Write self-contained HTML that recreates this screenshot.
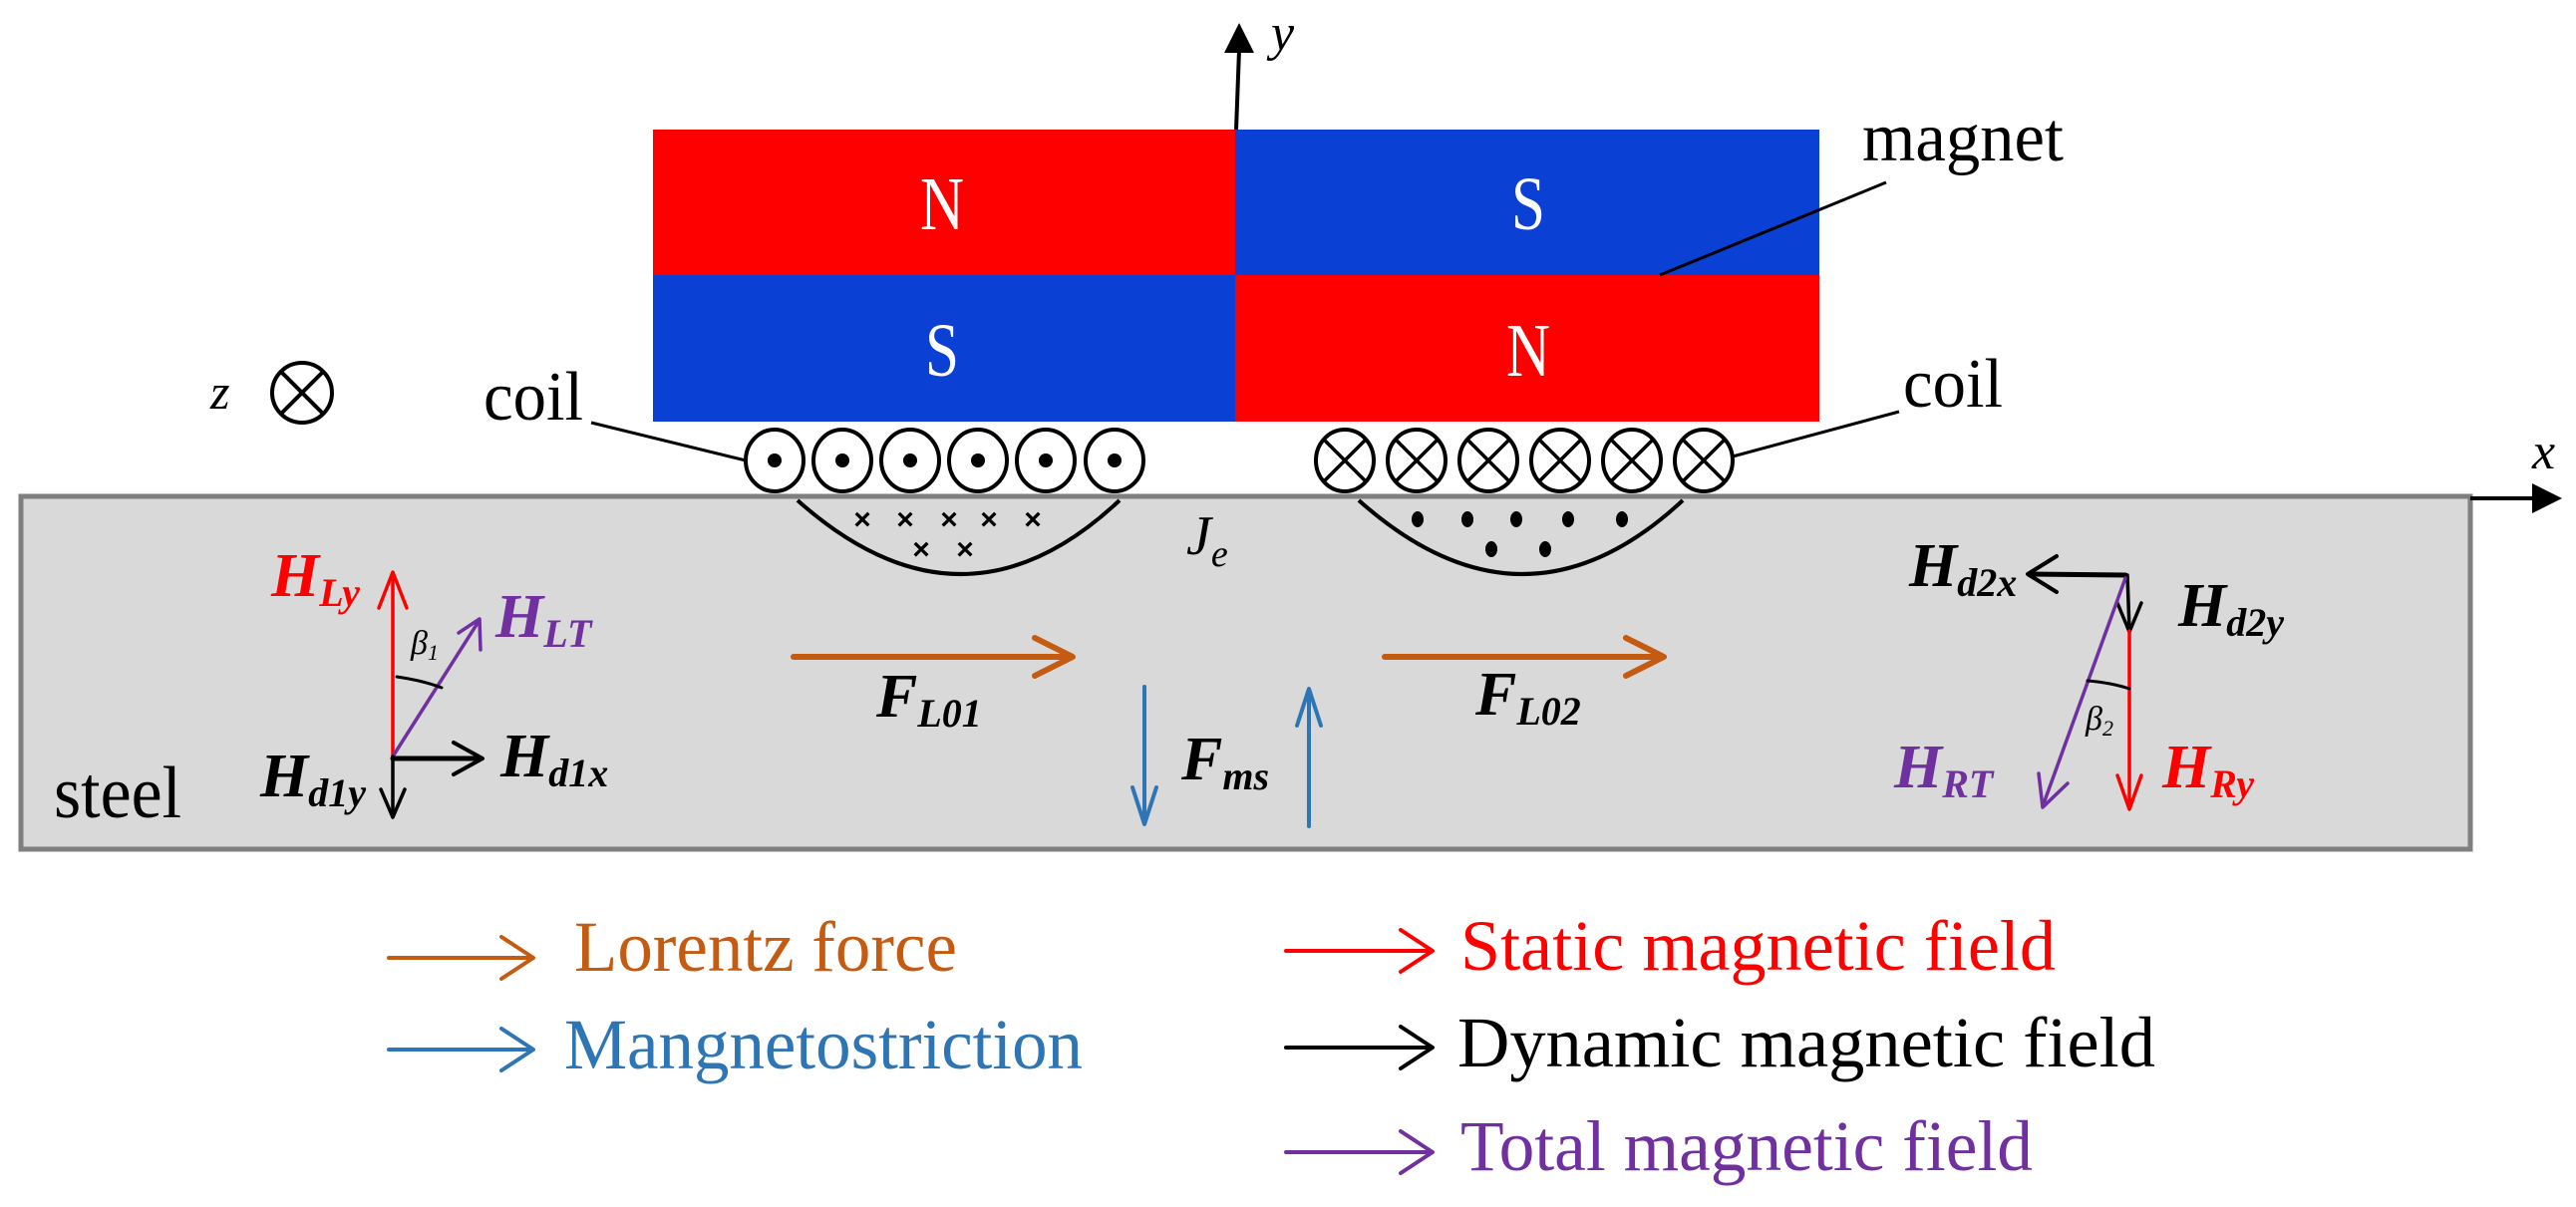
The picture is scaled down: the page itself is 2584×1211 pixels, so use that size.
<!DOCTYPE html>
<html><head><meta charset="utf-8"><style>html,body{margin:0;padding:0;background:#fff}svg{display:block}</style></head><body>
<svg width="2584" height="1211" viewBox="0 0 2584 1211" xmlns="http://www.w3.org/2000/svg" font-family="'Liberation Serif', serif">
<!-- magnets -->
<rect x="655" y="130" width="584" height="146" fill="#ff0000"/>
<rect x="1239" y="130" width="586" height="146" fill="#0a40d4"/>
<rect x="655" y="276" width="584" height="147" fill="#0a40d4"/>
<rect x="1239" y="276" width="586" height="147" fill="#ff0000"/>
<g fill="#fff" font-size="76" text-anchor="middle">
<text x="945" y="230" textLength="44" lengthAdjust="spacingAndGlyphs">N</text><text x="945" y="377" textLength="34" lengthAdjust="spacingAndGlyphs">S</text>
<text x="1533" y="230" textLength="34" lengthAdjust="spacingAndGlyphs">S</text><text x="1533" y="377" textLength="44" lengthAdjust="spacingAndGlyphs">N</text>
</g>
<!-- y axis -->
<line x1="1240" y1="130" x2="1243" y2="50" stroke="#000" stroke-width="4"/>
<path d="M1243,23 L1228,53 L1258,53 z" fill="#000"/>
<text x="1275" y="50" font-size="52" font-style="italic">y</text>
<!-- magnet label -->
<text x="1868" y="161" font-size="70" textLength="202" lengthAdjust="spacingAndGlyphs">magnet</text>
<line x1="1892" y1="183" x2="1665" y2="276" stroke="#000" stroke-width="3"/>
<!-- z -->
<text x="211" y="410" font-size="50" font-style="italic">z</text>
<g stroke="#000" stroke-width="4" fill="none">
<circle cx="303" cy="394" r="30"/>
<line x1="282" y1="373" x2="324" y2="415"/><line x1="324" y1="373" x2="282" y2="415"/>
</g>
<!-- steel -->
<rect x="21" y="498" width="2457" height="354" fill="#d9d9d9" stroke="#7f7f7f" stroke-width="5"/>
<line x1="2478" y1="500" x2="2540" y2="500" stroke="#000" stroke-width="4"/>
<path d="M2570,500 L2540,485 L2540,515 z" fill="#000"/>
<text x="2540" y="470" font-size="52" font-style="italic">x</text>
<!-- coils -->
<g stroke="#000" stroke-width="4" fill="#fff">
<ellipse cx="777" cy="462" rx="29" ry="31"/><ellipse cx="845" cy="462" rx="29" ry="31"/><ellipse cx="913" cy="462" rx="29" ry="31"/><ellipse cx="981" cy="462" rx="29" ry="31"/><ellipse cx="1049" cy="462" rx="29" ry="31"/><ellipse cx="1118" cy="462" rx="29" ry="31"/>
<ellipse cx="1349" cy="462" rx="29" ry="31"/><ellipse cx="1421" cy="462" rx="29" ry="31"/><ellipse cx="1493" cy="462" rx="29" ry="31"/><ellipse cx="1565" cy="462" rx="29" ry="31"/><ellipse cx="1637" cy="462" rx="29" ry="31"/><ellipse cx="1709" cy="462" rx="29" ry="31"/>
</g>
<g fill="#000">
<circle cx="777" cy="462" r="7"/><circle cx="845" cy="462" r="7"/><circle cx="913" cy="462" r="7"/><circle cx="981" cy="462" r="7"/><circle cx="1049" cy="462" r="7"/><circle cx="1118" cy="462" r="7"/>
</g>
<g stroke="#000" stroke-width="3.5">
<path d="M1329,442 l40,40 M1369,442 l-40,40"/><path d="M1401,442 l40,40 M1441,442 l-40,40"/><path d="M1473,442 l40,40 M1513,442 l-40,40"/><path d="M1545,442 l40,40 M1585,442 l-40,40"/><path d="M1617,442 l40,40 M1657,442 l-40,40"/><path d="M1689,442 l40,40 M1729,442 l-40,40"/>
</g>
<text x="485" y="421" font-size="70" textLength="100" lengthAdjust="spacingAndGlyphs">coil</text>
<line x1="593" y1="424" x2="748" y2="462" stroke="#000" stroke-width="3"/>
<text x="1909" y="408" font-size="70" textLength="100" lengthAdjust="spacingAndGlyphs">coil</text>
<line x1="1905" y1="413" x2="1738" y2="458" stroke="#000" stroke-width="3"/>
<!-- eddy arcs -->
<path d="M800,502 Q966,650 1123,502" fill="none" stroke="#000" stroke-width="4"/>
<path d="M1363,502 Q1529,650 1688,502" fill="none" stroke="#000" stroke-width="4"/>
<g font-size="30" font-family="'Liberation Sans',sans-serif" text-anchor="middle" font-weight="bold">
<text x="865" y="531">×</text><text x="908" y="531">×</text><text x="952" y="531">×</text><text x="992" y="531">×</text><text x="1036" y="531">×</text>
<text x="924" y="561">×</text><text x="968" y="561">×</text>
</g>
<g fill="#000">
<ellipse cx="1422" cy="521" rx="6" ry="8"/><ellipse cx="1472" cy="521" rx="6" ry="8"/><ellipse cx="1521" cy="521" rx="6" ry="8"/><ellipse cx="1573" cy="521" rx="6" ry="8"/><ellipse cx="1627" cy="521" rx="6" ry="8"/>
<ellipse cx="1496" cy="551" rx="6" ry="8"/><ellipse cx="1550" cy="551" rx="6" ry="8"/>
</g>
<text x="1190" y="556" font-size="56" font-style="italic">J<tspan font-size="38" dy="12">e</tspan></text>
<!-- left vector set -->
<g fill="none" stroke-width="3.5" stroke-linecap="round" stroke-linejoin="round">
<line x1="394" y1="759" x2="394" y2="576" stroke="#ff0000"/>
<path d="M380,610 L394,574 L408,610" stroke="#ff0000"/>
<line x1="394" y1="759" x2="481" y2="622" stroke="#7030a0"/>
<path d="M460,635 L481,621 L482,652" stroke="#7030a0"/>
<line x1="394" y1="761" x2="482" y2="761" stroke="#000" stroke-width="5"/>
<path d="M455,745 L484,761 L455,777" stroke="#000" stroke-width="4"/>
<line x1="394" y1="759" x2="394" y2="818" stroke="#000"/>
<path d="M382,792 L394,820 L406,792" stroke="#000"/>
<path d="M398,679 Q425,683 443,690" stroke="#000" stroke-width="3"/>
</g>
<g font-weight="bold" font-style="italic" font-size="62">
<text x="272" y="598" fill="#ff0000">H<tspan font-size="40" dy="10">Ly</tspan></text>
<text x="497" y="639" fill="#7030a0">H<tspan font-size="40" dy="10">LT</tspan></text>
<text x="502" y="779" fill="#000">H<tspan font-size="40" dy="10">d1x</tspan></text>
<text x="261" y="799" fill="#000">H<tspan font-size="40" dy="10">d1y</tspan></text>
</g>
<text x="412" y="656" font-size="34" font-style="italic">β<tspan font-size="22" dy="6">1</tspan></text>
<text x="54" y="820" font-size="74" textLength="128" lengthAdjust="spacingAndGlyphs">steel</text>
<!-- Lorentz forces -->
<g fill="none" stroke="#c55a11" stroke-width="6" stroke-linecap="round" stroke-linejoin="round">
<line x1="796" y1="659" x2="1074" y2="659"/><path d="M1038,640 L1076,659 L1038,678"/>
<line x1="1389" y1="659" x2="1667" y2="659"/><path d="M1631,640 L1669,659 L1631,678"/>
</g>
<g font-weight="bold" font-style="italic" font-size="62">
<text x="879" y="719">F<tspan font-size="40" dy="10">L01</tspan></text>
<text x="1480" y="717">F<tspan font-size="40" dy="10">L02</tspan></text>
<text x="1185" y="782">F<tspan font-size="40" dy="10">ms</tspan></text>
</g>
<!-- magnetostriction -->
<g fill="none" stroke="#2e75b6" stroke-width="4" stroke-linecap="round" stroke-linejoin="round">
<line x1="1148" y1="689" x2="1148" y2="825"/><path d="M1136,790 L1148,827 L1160,790"/>
<line x1="1313" y1="829" x2="1313" y2="693"/><path d="M1301,728 L1313,691 L1325,728"/>
</g>
<!-- right vector set -->
<g fill="none" stroke-width="3.5" stroke-linecap="round" stroke-linejoin="round">
<line x1="2132" y1="577" x2="2036" y2="576" stroke="#000" stroke-width="5"/>
<path d="M2063,558 L2034,576 L2063,594" stroke="#000" stroke-width="4"/>
<line x1="2134" y1="577" x2="2136" y2="632" stroke="#000"/>
<path d="M2124,605 L2136,634 L2148,605" stroke="#000"/>
<line x1="2136" y1="633" x2="2136" y2="810" stroke="#ff0000"/>
<path d="M2124,778 L2136,812 L2148,778" stroke="#ff0000"/>
<line x1="2132" y1="580" x2="2049" y2="809" stroke="#7030a0"/>
<path d="M2045,776 L2049,810 L2074,786" stroke="#7030a0"/>
<path d="M2094,683 Q2118,685 2136,691" stroke="#000" stroke-width="3"/>
</g>
<g font-weight="bold" font-style="italic" font-size="62">
<text x="1915" y="588" fill="#000">H<tspan font-size="40" dy="10">d2x</tspan></text>
<text x="2185" y="628" fill="#000">H<tspan font-size="40" dy="10">d2y</tspan></text>
<text x="2169" y="790" fill="#ff0000">H<tspan font-size="40" dy="10">Ry</tspan></text>
<text x="1900" y="790" fill="#7030a0">H<tspan font-size="40" dy="10">RT</tspan></text>
</g>
<text x="2092" y="732" font-size="34" font-style="italic">β<tspan font-size="22" dy="6">2</tspan></text>
<!-- legend -->
<g fill="none" stroke-width="4" stroke-linecap="round" stroke-linejoin="round">
<line x1="390" y1="961" x2="533" y2="961" stroke="#c55a11"/><path d="M503,940 L535,961 L503,982" stroke="#c55a11"/>
<line x1="390" y1="1053" x2="533" y2="1053" stroke="#2e75b6"/><path d="M503,1032 L535,1053 L503,1074" stroke="#2e75b6"/>
<line x1="1290" y1="954" x2="1435" y2="954" stroke="#ff0000"/><path d="M1405,933 L1437,954 L1405,975" stroke="#ff0000"/>
<line x1="1290" y1="1051" x2="1435" y2="1051" stroke="#000"/><path d="M1405,1030 L1437,1051 L1405,1072" stroke="#000"/>
<line x1="1290" y1="1156" x2="1435" y2="1156" stroke="#7030a0"/><path d="M1405,1135 L1437,1156 L1405,1177" stroke="#7030a0"/>
</g>
<g font-size="72">
<text x="576" y="974" fill="#c55a11" textLength="384" lengthAdjust="spacingAndGlyphs">Lorentz force</text>
<text x="566" y="1072" fill="#2e75b6" textLength="520" lengthAdjust="spacingAndGlyphs">Mangnetostriction</text>
<text x="1465" y="973" fill="#ff0000" textLength="597" lengthAdjust="spacingAndGlyphs">Static magnetic field</text>
<text x="1462" y="1070" fill="#000" textLength="700" lengthAdjust="spacingAndGlyphs">Dynamic magnetic field</text>
<text x="1465" y="1174" fill="#7030a0" textLength="574" lengthAdjust="spacingAndGlyphs">Total magnetic field</text>
</g>
</svg>
</body></html>
